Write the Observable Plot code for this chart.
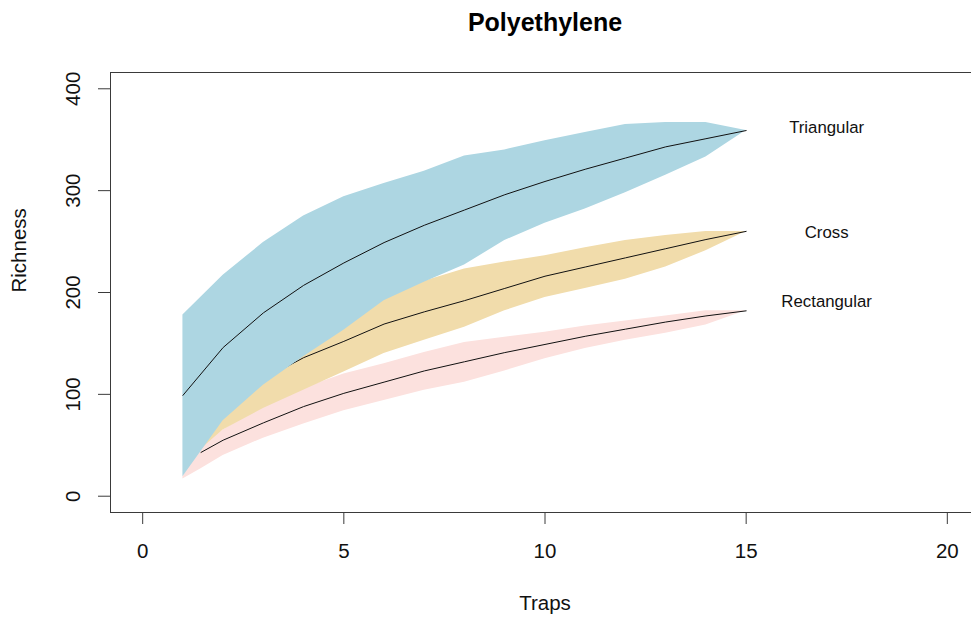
<!DOCTYPE html>
<html>
<head>
<meta charset="utf-8">
<script src="https://cdn.jsdelivr.net/npm/d3@7"></script>
<script src="https://cdn.jsdelivr.net/npm/@observablehq/plot@0.6"></script>
<style>
  html, body { margin: 0; padding: 0; background: white; }
  #chart svg { display: block; }
</style>
</head>
<body>
<div id="chart"></div>
<script>
const chartTitle = "Polyethylene";
const xLabel = "Traps";
const yLabel = "Richness";
const xTicks = [0, 5, 10, 15, 20];
const yTicks = [0, 100, 200, 300, 400];

// Triangular
const triTraps = [1, 2, 3, 4, 5, 6, 7, 8, 9, 10, 11, 12, 13, 14, 15];
const triMid = [99, 146, 180, 207, 229, 249, 266, 281, 296, 309, 321, 332, 343, 351, 359];
const triLo  = [19, 74, 109, 137, 163, 192, 210, 227, 251, 268, 282, 298, 315, 333, 359];
const triHi  = [178, 217, 249, 275, 294, 307, 319, 334, 340, 349, 357, 365, 367, 367, 359];

// Cross
const crossTraps = [1.45, 2, 3, 4, 5, 6, 7, 8, 9, 10, 11, 12, 13, 14, 15];
const crossMid = [47, 80, 115, 136, 152, 169, 181, 192, 204, 216, 225, 234, 243, 252, 260];
const crossLo  = [46, 65, 86, 104, 122, 140, 153, 166, 182, 195, 204, 213, 225, 241, 260];
const crossHi  = [48, 85, 120, 150, 175, 198, 211, 223, 230, 236, 244, 251, 256, 260, 260];

// Rectangular
const rectTraps = [1, 1.45, 2, 3, 4, 5, 6, 7, 8, 9, 10, 11, 12, 13, 14, 15];
const rectMid = [null, 43, 55, 72, 88, 101, 112, 123, 132, 141, 149, 157, 164, 171, 177, 182];
const rectLo  = [17, 27, 40, 57, 71, 84, 94, 104, 112, 123, 135, 145, 153, 160, 168, 182];
const rectHi  = [19, 50, 65, 89, 106, 120, 130, 141, 151, 156, 161, 167, 172, 177, 182, 182];

const seriesNames = ["Triangular", "Cross", "Rectangular"];
const labelX = [17, 17, 17];
const labelY = [362, 259, 191];

const fills = {Triangular: "#ADD6E2", Cross: "#F1DCAB", Rectangular: "#FCE1DE"};

const toRows = (xs, mid, lo, hi) => xs.map((x, i) => ({x, mid: mid[i], lo: lo[i], hi: hi[i]}));
const tri = toRows(triTraps, triMid, triLo, triHi);
const cross = toRows(crossTraps, crossMid, crossLo, crossHi);
const rect = toRows(rectTraps, rectMid, rectLo, rectHi);
const labels = seriesNames.map((name, i) => ({name, x: labelX[i], y: labelY[i]}));

const font = "'Liberation Sans', Arial, Helvetica, sans-serif";
const axisColor = "#3a3a3a";

const band = (data, name) => Plot.areaY(data, {x: "x", y1: "lo", y2: "hi", fill: fills[name], curve: "linear"});
const mean = (data) => Plot.line(data, {x: "x", y: "mid", stroke: "#111", strokeWidth: 1, curve: "linear"});

const chart = Plot.plot({
  width: 971,
  height: 618,
  marginLeft: 110,
  marginRight: 0,
  marginTop: 72,
  marginBottom: 106,
  x: {domain: [-0.8, 20.8], range: [110, 979]},
  y: {domain: [-16, 416]},
  style: {fontFamily: font, background: "white", color: "#111"},
  marks: [
    band(rect, "Rectangular"),
    mean(rect),
    band(cross, "Cross"),
    mean(cross),
    band(tri, "Triangular"),
    mean(tri),
    Plot.ruleY([416], {stroke: axisColor}),
    Plot.ruleY([-16], {stroke: axisColor}),
    Plot.ruleX([-0.8], {stroke: axisColor}),
    Plot.axisX(xTicks, {tickSize: 12, tickPadding: 19, fontSize: 20.5, label: null, stroke: axisColor}),
    Plot.axisY(yTicks, {tickSize: 12, tickFormat: () => "", label: null, stroke: axisColor}),
    Plot.text(yTicks, {y: d => d, text: d => String(d), frameAnchor: "left", dx: -37.5, rotate: -90,
      fontSize: 20.5, textAnchor: "middle", lineAnchor: "middle", fill: "#111"}),
    Plot.text(labels, {x: "x", y: "y", text: "name", fontSize: 16.8, textAnchor: "middle", lineAnchor: "middle", fill: "#111"}),
    Plot.text([chartTitle], {frameAnchor: "top", dy: -50, dx: 4, fontSize: 25, fontWeight: "bold", lineAnchor: "middle", fill: "#000"}),
    Plot.text([xLabel], {frameAnchor: "bottom", dy: 91.3, dx: 4, fontSize: 20.5, lineAnchor: "middle", fill: "#111"}),
    Plot.text([yLabel], {frameAnchor: "left", dx: -91, rotate: -90, fontSize: 20.5, lineAnchor: "middle", fill: "#111"})
  ]
});
document.getElementById("chart").appendChild(chart);
</script>
</body>
</html>
